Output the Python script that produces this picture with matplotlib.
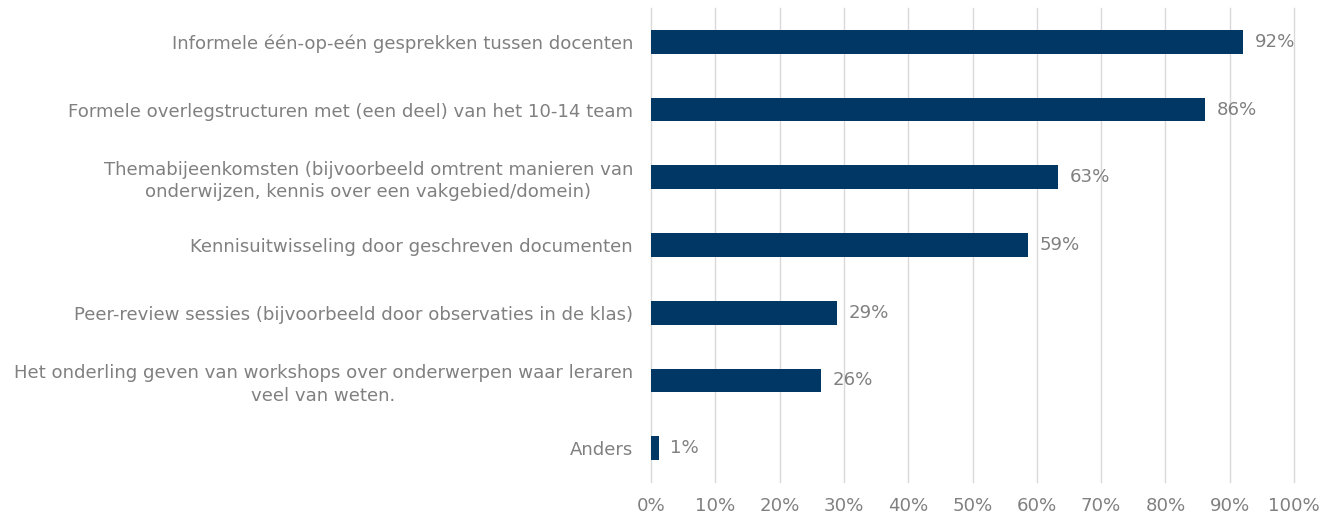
import matplotlib.pyplot as plt
from matplotlib.ticker import PercentFormatter

plt.rcParams["font.family"] = ["DejaVu Sans"]

categories = [
    "Informele één-op-eén gesprekken tussen docenten",
    "Formele overlegstructuren met (een deel) van het 10-14 team",
    "Themabijeenkomsten (bijvoorbeeld omtrent manieren van\nonderwijzen, kennis over een vakgebied/domein)",
    "Kennisuitwisseling door geschreven documenten",
    "Peer-review sessies (bijvoorbeeld door observaties in de klas)",
    "Het onderling geven van workshops over onderwerpen waar leraren\nveel van weten.",
    "Anders",
]
values = [92.1, 86.2, 63.3, 58.7, 28.9, 26.5, 1.2]
xticks = list(range(0, 101, 10))

BAR = "#003764"
TEXT = "#808080"
GRID = "#d9d9d9"
FS = 13.1

fig = plt.figure(figsize=(13.36, 5.18), dpi=100)
ax = fig.add_axes([651 / 1336, 1 - 482 / 518, 643 / 1336, 474 / 518])

ypos = list(range(len(categories)))
ax.barh(ypos, values, height=0.35, color=BAR, zorder=3)

# labels next to the bars
for y, v in zip(ypos, values):
    ax.text(v + 1.8, y, f"{round(v):.0f}%", va="center", ha="left",
            fontsize=FS, color=TEXT)

ax.set_xlim(0, 100)
ax.set_ylim(len(categories) - 0.5, -0.5)
ax.set_yticks(ypos)
ax.set_yticklabels(categories, fontsize=FS, color=TEXT, ha="right",
                   multialignment="center", linespacing=1.3)
ax.set_xticks(xticks)
ax.xaxis.set_major_formatter(PercentFormatter(decimals=0))
ax.tick_params(axis="x", labelsize=FS, labelcolor=TEXT, length=0, pad=11)
ax.tick_params(axis="y", length=0, pad=13)

ax.grid(axis="x", color=GRID, linewidth=1, zorder=0)
for gl in ax.get_xgridlines():
    gl.set_clip_on(False)
for s in ax.spines.values():
    s.set_visible(False)

fig.savefig("out.png", dpi=100)
